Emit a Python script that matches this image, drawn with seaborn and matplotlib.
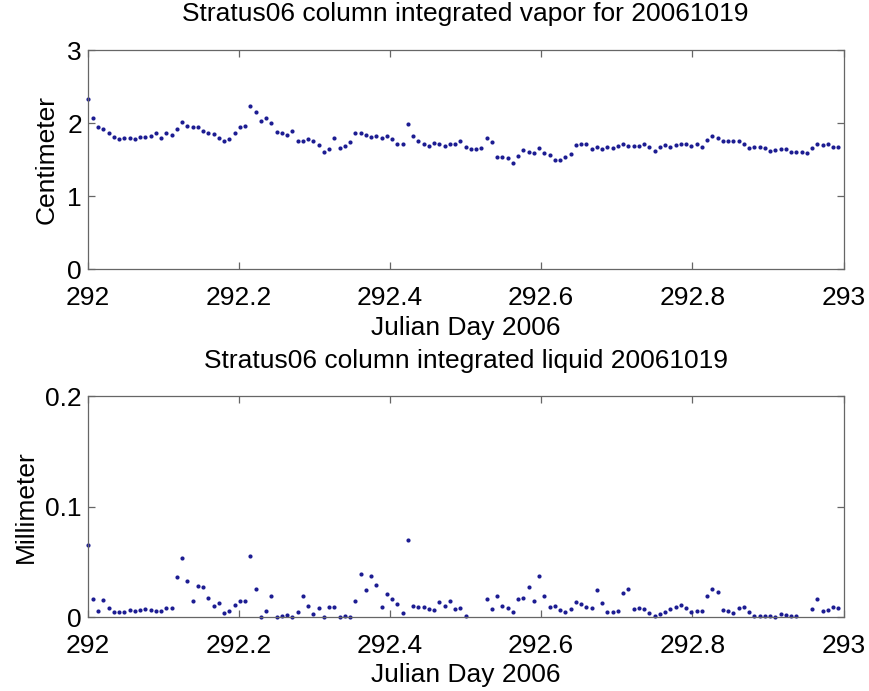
import numpy as np
import pandas as pd
import seaborn as sns
import matplotlib.pyplot as plt

# 10 minute samples, Julian day 292 (2006-10-19)
start_day = 292.0
step_minutes = 10

vapor_cm = [
    2.33, 2.07, 1.94, 1.92, 1.87, 1.81, 1.78, 1.79, 1.80, 1.78,
    1.81, 1.81, 1.82, 1.86, 1.80, 1.87, 1.84, 1.92, 2.02, 1.96,
    1.95, 1.94, 1.89, 1.87, 1.85, 1.80, 1.75, 1.78, 1.86, 1.95,
    1.96, 2.23, 2.15, 2.03, 2.07, 2.00, 1.88, 1.86, 1.84, 1.89,
    1.76, 1.75, 1.78, 1.75, 1.70, 1.60, 1.65, 1.80, 1.66, 1.69,
    1.74, 1.86, 1.87, 1.84, 1.81, 1.83, 1.79, 1.83, 1.78, 1.71,
    1.71, 1.99, 1.83, 1.75, 1.71, 1.69, 1.73, 1.71, 1.69, 1.71,
    1.71, 1.75, 1.68, 1.64, 1.65, 1.66, 1.80, 1.74, 1.53, 1.53,
    1.52, 1.46, 1.55, 1.63, 1.60, 1.59, 1.66, 1.59, 1.56, 1.50,
    1.50, 1.54, 1.58, 1.70, 1.72, 1.71, 1.65, 1.68, 1.65, 1.67,
    1.66, 1.69, 1.71, 1.69, 1.69, 1.69, 1.72, 1.67, 1.62, 1.67,
    1.70, 1.67, 1.70, 1.71, 1.72, 1.69, 1.72, 1.67, 1.77, 1.83,
    1.80, 1.76, 1.76, 1.76, 1.75, 1.71, 1.66, 1.67, 1.67, 1.66,
    1.62, 1.63, 1.64, 1.64, 1.60, 1.60, 1.60, 1.59, 1.66, 1.72,
    1.70, 1.71, 1.67, 1.68,
]

# nan = no point shown in the picture
liquid_mm = [
    0.0656, 0.0169, 0.0060, 0.0157, 0.0080, 0.0045, 0.0045, 0.0045, 0.0066, 0.0060,
    0.0066, 0.0076, 0.0066, 0.0057, 0.0057, 0.0088, 0.0088, 0.0363, 0.0532, 0.0329,
    0.0148, 0.0287, 0.0275, 0.0178, 0.0106, 0.0127, 0.0036, 0.0057, 0.0112, 0.0148,
    0.0148, 0.0553, 0.0260, 0.0006, 0.0060, 0.0193, 0.0000, 0.0012, 0.0020, 0.0006,
    0.0045, 0.0193, 0.0106, 0.0030, 0.0080, 0.0006, 0.0090, 0.0097, 0.0000, 0.0015,
    0.0006, 0.0148, 0.0390, 0.0245, 0.0369, 0.0296, 0.0097, 0.0208, 0.0169, 0.0118,
    0.0036, 0.0701, 0.0106, 0.0097, 0.0097, 0.0076, 0.0066, 0.0136, 0.0106, 0.0148,
    0.0076, 0.0080, 0.0015, np.nan, np.nan, np.nan, 0.0169, 0.0073, 0.0193, 0.0106,
    0.0085, 0.0051, 0.0169, 0.0178, 0.0275, 0.0148, 0.0369, 0.0193, 0.0097, 0.0106,
    0.0066, 0.0051, 0.0073, 0.0139, 0.0118, 0.0097, 0.0085, 0.0251, 0.0127, 0.0045,
    0.0045, 0.0060, 0.0218, 0.0260, 0.0073, 0.0088, 0.0076, 0.0036, 0.0015, 0.0030,
    0.0051, 0.0076, 0.0097, 0.0112, 0.0088, 0.0051, 0.0060, 0.0054, 0.0193, 0.0260,
    0.0230, 0.0066, 0.0060, 0.0036, 0.0080, 0.0097, 0.0045, 0.0015, 0.0015, 0.0015,
    0.0015, 0.0006, 0.0030, 0.0020, 0.0015, 0.0015, np.nan, np.nan, 0.0076, 0.0163,
    0.0054, 0.0066, 0.0097, 0.0088,
]

x_ticks = [292, 292.2, 292.4, 292.6, 292.8, 293]
x_tick_labels = ["292", "292.2", "292.4", "292.6", "292.8", "293"]
vapor_ticks = [0, 1, 2, 3]
vapor_tick_labels = ["0", "1", "2", "3"]
liquid_ticks = [0, 0.1, 0.2]
liquid_tick_labels = ["0", "0.1", "0.2"]

df = pd.DataFrame({
    "julian_day": start_day + np.arange(len(vapor_cm)) * step_minutes / 1440.0,
    "vapor": vapor_cm,
    "liquid": liquid_mm,
})

sns.set_theme(style="ticks")
plt.rcParams["font.family"] = ["Liberation Sans", "DejaVu Sans"]
plt.rcParams["text.color"] = "black"
plt.rcParams["axes.labelcolor"] = "black"

fs = 19
dot_color = "#1c1c92"
edge_color = "#666666"

fig = plt.figure(figsize=(8.7, 6.91), dpi=100)
ax1 = fig.add_axes([0.1006, 0.6103, 0.8690, 0.3173])
ax2 = fig.add_axes([0.1006, 0.1067, 0.8690, 0.3202])


def style_axis(ax, yticks, ylabels):
    ax.set_xlim(292, 293)
    ax.set_xticks(x_ticks)
    ax.set_xticklabels(x_tick_labels)
    ax.set_yticks(yticks)
    ax.set_yticklabels(ylabels)
    ax.tick_params(direction="in", length=5, width=0.9, color=edge_color,
                   top=True, right=True, labelsize=fs, labelcolor="black")
    ax.tick_params(axis="x", pad=12)
    ax.tick_params(axis="y", pad=4)
    for sp in ax.spines.values():
        sp.set_visible(True)
        sp.set_color(edge_color)
        sp.set_linewidth(0.9)


sns.scatterplot(data=df, x="julian_day", y="vapor", ax=ax1, color=dot_color,
                s=9, linewidth=0, clip_on=False)
ax1.set_ylim(0, 3)
style_axis(ax1, vapor_ticks, vapor_tick_labels)
ax1.set_title("Stratus06 column integrated vapor for 20061019", fontsize=fs, pad=21)
ax1.set_xlabel("Julian Day 2006", fontsize=fs, labelpad=4)
ax1.set_ylabel("Centimeter", fontsize=fs)
ax1.yaxis.set_label_coords(-0.038, 0.5)

sns.scatterplot(data=df, x="julian_day", y="liquid", ax=ax2, color=dot_color,
                s=9, linewidth=0, clip_on=False)
ax2.set_ylim(0, 0.2)
style_axis(ax2, liquid_ticks, liquid_tick_labels)
ax2.set_title("Stratus06 column integrated liquid 20061019", fontsize=fs, pad=20)
ax2.set_xlabel("Julian Day 2006", fontsize=fs, labelpad=4)
ax2.set_ylabel("Millimeter", fontsize=fs)
ax2.yaxis.set_label_coords(-0.0655, 0.5)

fig.savefig("out.png", dpi=100)
